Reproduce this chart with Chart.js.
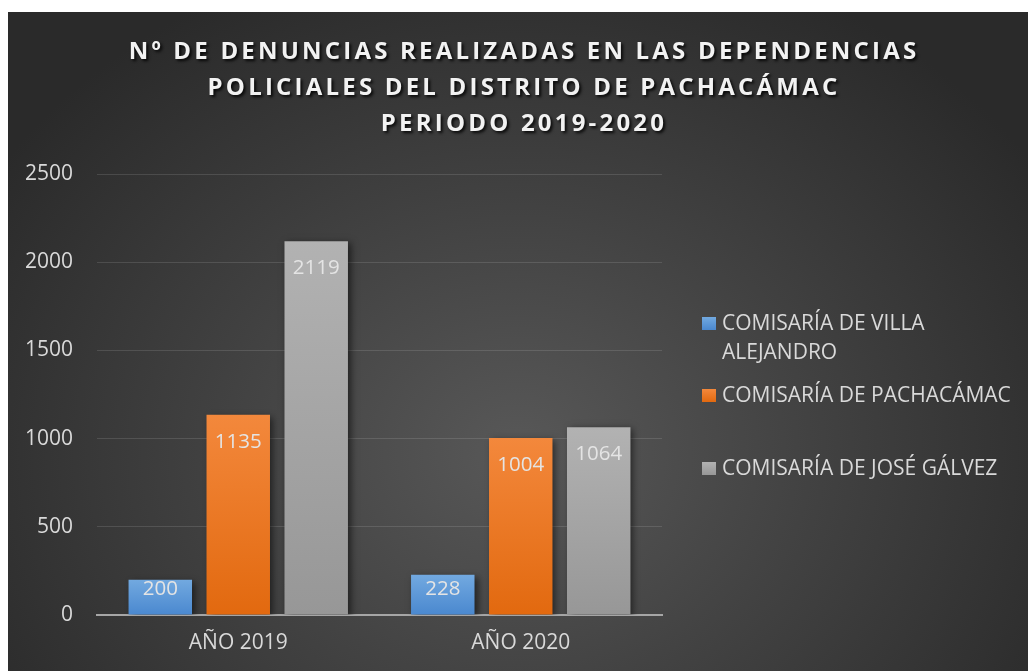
<!DOCTYPE html>
<html>
<head>
<meta charset="utf-8">
<script src="https://cdn.jsdelivr.net/npm/chart.js@4"></script>
<style>
  html, body { margin: 0; padding: 0; background: #fff; }
  body { width: 1028px; height: 671px; position: relative; overflow: hidden; font-family: "Open Sans", sans-serif; }
  #wrap {
    position: absolute; left: 8px; top: 12px; width: 1020px; height: 659px;
    background: radial-gradient(ellipse 620px 520px at 510px 440px, #585858 0%, #434343 45%, #2a2a2a 100%);
  }
  #wrap canvas { position: absolute; left: 0; top: 0; }
  .item { position: absolute; left: 694px; color: #d9d9d9; font-size: 21px; line-height: 29px; }
  .item .box { position: absolute; left: 0; top: 9px; width: 14px; height: 13px; }
  .item .txt { display: block; margin-left: 20px; width: 304px; }
</style>
</head>
<body>
<div id="wrap">
  <canvas id="chart" width="1020" height="659"></canvas>
  <div id="legend"></div>
</div>
<script>
const titleLines = [
  "Nº DE DENUNCIAS REALIZADAS EN LAS DEPENDENCIAS",
  "POLICIALES DEL DISTRITO DE PACHACÁMAC",
  "PERIODO 2019-2020"
];
const categories = ["AÑO 2019", "AÑO 2020"];
const seriesNames = ["COMISARÍA DE VILLA ALEJANDRO", "COMISARÍA DE PACHACÁMAC", "COMISARÍA DE JOSÉ GÁLVEZ"];
const villaAlejandro = [200, 228];
const pachacamac = [1135, 1004];
const joseGalvez = [2119, 1064];
const yTicks = [0, 500, 1000, 1500, 2000, 2500];

// colores: [arriba, abajo]
const colors = [
  ["#72a9e0", "#4a88cf"],
  ["#f3883c", "#e2690f"],
  ["#b2b2b2", "#979797"]
];
const textColor = "#d9d9d9";

function barGradient(pair) {
  return (c) => {
    const chart = c.chart;
    const y = chart.scales.y;
    if (!chart.chartArea || !y || c.raw == null) return pair[1];
    const top = y.getPixelForValue(c.raw);
    const bottom = y.getPixelForValue(0);
    const g = chart.ctx.createLinearGradient(0, top, 0, bottom);
    g.addColorStop(0, pair[0]);
    g.addColorStop(1, pair[1]);
    return g;
  };
}

const barShadow = {
  id: "barShadow",
  beforeDatasetsDraw(chart) {
    const ctx = chart.ctx;
    ctx.save();
    ctx.shadowColor = "rgba(0,0,0,0.55)";
    ctx.shadowBlur = 7;
    ctx.shadowOffsetX = 3;
    ctx.shadowOffsetY = 2;
  },
  afterDatasetsDraw(chart) {
    chart.ctx.restore();
  }
};

const valueLabels = {
  id: "valueLabels",
  afterDatasetsDraw(chart) {
    const ctx = chart.ctx;
    ctx.save();
    ctx.font = '20.5px "Open Sans"';
    ctx.fillStyle = "#e4e4e4";
    ctx.textAlign = "center";
    ctx.textBaseline = "middle";
    chart.data.datasets.forEach((ds, i) => {
      chart.getDatasetMeta(i).data.forEach((bar, j) => {
        const y = Math.min(bar.y + 27, bar.base - 25);
        ctx.fillText(ds.data[j], bar.x, y);
      });
    });
    ctx.restore();
  }
};

const bigTitle = {
  id: "bigTitle",
  afterDraw(chart) {
    const ctx = chart.ctx;
    ctx.save();
    ctx.font = 'bold 24px "Open Sans"';
    ctx.letterSpacing = "3.2px";
    ctx.fillStyle = "#f2f2f2";
    ctx.textAlign = "center";
    ctx.textBaseline = "middle";
    ctx.shadowColor = "rgba(0,0,0,0.85)";
    ctx.shadowOffsetX = 2;
    ctx.shadowOffsetY = 2;
    ctx.shadowBlur = 3;
    titleLines.forEach((t, i) => ctx.fillText(t, 516, 40 + i * 36.3));
    ctx.restore();
  }
};

const allSeries = [villaAlejandro, pachacamac, joseGalvez];

new Chart(document.getElementById("chart"), {
  type: "bar",
  data: {
    labels: categories,
    datasets: allSeries.map((d, i) => ({
      label: seriesNames[i],
      data: d,
      backgroundColor: barGradient(colors[i]),
      borderWidth: 0,
      categoryPercentage: 0.828,
      barPercentage: 0.814
    }))
  },
  options: {
    responsive: false,
    animation: false,
    layout: { padding: { top: 162, right: 366, bottom: 0, left: 0 } },
    plugins: {
      legend: { display: false },
      title: { display: false },
      tooltip: { enabled: false }
    },
    scales: {
      y: {
        min: 0,
        max: 2500,
        afterBuildTicks(s) { s.ticks = yTicks.map(v => ({ value: v })); },
        afterFit(s) { s.width = 89; },
        ticks: {
          color: textColor,
          font: { family: "Open Sans", size: 21 },
          padding: 24,
          callback: (v) => String(v)
        },
        grid: { color: "rgba(255,255,255,0.12)", drawTicks: false },
        border: { display: false }
      },
      x: {
        afterFit(s) { s.height = 56; },
        ticks: { color: textColor, font: { family: "Open Sans", size: 21 }, padding: 15 },
        grid: { display: false, drawTicks: false },
        border: { color: "#a6a6a6", width: 2 }
      }
    }
  },
  plugins: [barShadow, valueLabels, bigTitle]
});

// leyenda a la derecha
const legendTops = [296, 368, 441];
const legend = document.getElementById("legend");
seriesNames.forEach((name, i) => {
  const div = document.createElement("div");
  div.className = "item";
  div.style.top = legendTops[i] + "px";
  div.innerHTML = `<span class="box" style="background:linear-gradient(${colors[i][0]}, ${colors[i][1]})"></span><span class="txt">${name}</span>`;
  legend.appendChild(div);
});
</script>
</body>
</html>
